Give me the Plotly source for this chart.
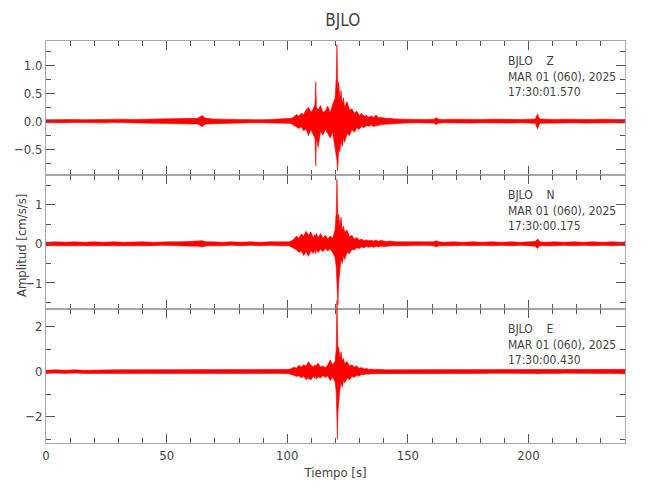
import plotly.graph_objects as go

# time grid (s) at which the envelope (max / min) of each trace was read
time = [0, 4, 8, 12, 16, 20, 24, 28, 32, 36,
        40, 44, 48, 52, 56, 60.8, 62.8, 63.8, 64.8, 65.8,
        66.8, 68.8, 72.8, 76.8, 80.8, 84.8, 88.8, 92.8, 96.8, 100.8,
        101.8, 102.8, 103.8, 104.8, 105.8, 106.8, 107.8, 108.8, 109.8, 110.8,
        111.5, 111.8, 112.1, 112.8, 113.8, 114.8, 115.8, 116.8, 117.8, 118.8,
        119.8, 120.3, 120.6, 120.8, 121.0, 121.3, 121.8, 122.3, 122.8, 123.3,
        123.8, 124.8, 125.8, 126.8, 127.8, 128.8, 129.8, 130.8, 131.8, 132.8,
        133.8, 134.8, 135.8, 136.8, 137.8, 138.8, 140.8, 142.8, 144.8, 148.8,
        152.8, 156.8, 160.8, 161.8, 162.8, 164.8, 168.8, 172.8, 176.8, 180.8,
        184.8, 188.8, 192.8, 196.8, 200.8, 202.8, 203.8, 204.3, 204.8, 206.8,
        210.8, 214.8, 218.8, 222.8, 226.8, 230.8, 234.8, 238.8, 240]

z_hi = [0.025, 0.03, 0.025, 0.03, 0.025, 0.03, 0.025, 0.03, 0.035, 0.03,
        0.035, 0.04, 0.035, 0.045, 0.045, 0.05, 0.05, 0.07, 0.1, 0.06,
        0.05, 0.04, 0.035, 0.03, 0.035, 0.03, 0.025, 0.03, 0.035, 0.04,
        0.05, 0.08, 0.12, 0.09, 0.14, 0.12, 0.2, 0.25, 0.16, 0.22,
        0.3, 0.7, 0.25, 0.2, 0.28, 0.16, 0.18, 0.27, 0.15, 0.3,
        0.4, 0.75, 1.37, 0.9, 0.55, 0.7, 0.4, 0.55, 0.3, 0.42,
        0.25, 0.35, 0.2, 0.22, 0.14, 0.18, 0.1, 0.14, 0.09, 0.1,
        0.07, 0.09, 0.07, 0.11, 0.06, 0.07, 0.05, 0.05, 0.04, 0.035,
        0.03, 0.03, 0.035, 0.06, 0.035, 0.03, 0.035, 0.03, 0.035, 0.03,
        0.035, 0.03, 0.035, 0.03, 0.035, 0.04, 0.13, 0.06, 0.04, 0.035,
        0.03, 0.035, 0.03, 0.035, 0.03, 0.035, 0.03, 0.035, 0.03]
z_lo = [-0.03, -0.025, -0.03, -0.025, -0.03, -0.025, -0.03, -0.025, -0.03, -0.035,
        -0.035, -0.04, -0.035, -0.045, -0.045, -0.05, -0.05, -0.07, -0.1, -0.06,
        -0.05, -0.04, -0.035, -0.03, -0.035, -0.03, -0.03, -0.025, -0.035, -0.04,
        -0.05, -0.08, -0.1, -0.13, -0.1, -0.17, -0.14, -0.26, -0.15, -0.25,
        -0.3, -0.8, -0.3, -0.47, -0.18, -0.25, -0.15, -0.22, -0.3, -0.2,
        -0.45, -0.6, -0.7, -0.89, -0.8, -0.5, -0.55, -0.35, -0.45, -0.3,
        -0.38, -0.22, -0.26, -0.15, -0.2, -0.12, -0.15, -0.09, -0.12, -0.08,
        -0.09, -0.07, -0.1, -0.08, -0.08, -0.06, -0.05, -0.045, -0.04, -0.035,
        -0.03, -0.03, -0.035, -0.06, -0.035, -0.03, -0.035, -0.03, -0.035, -0.03,
        -0.035, -0.03, -0.035, -0.03, -0.035, -0.04, -0.14, -0.07, -0.04, -0.035,
        -0.03, -0.035, -0.03, -0.035, -0.03, -0.035, -0.03, -0.035, -0.03]

n_hi = [0.04, 0.05, 0.04, 0.05, 0.04, 0.05, 0.04, 0.05, 0.04, 0.05,
        0.05, 0.04, 0.05, 0.05, 0.05, 0.06, 0.06, 0.07, 0.08, 0.06,
        0.05, 0.05, 0.04, 0.05, 0.04, 0.05, 0.04, 0.05, 0.05, 0.05,
        0.08, 0.12, 0.2, 0.14, 0.25, 0.2, 0.32, 0.22, 0.3, 0.15,
        0.24, 0.18, 0.27, 0.15, 0.26, 0.14, 0.22, 0.12, 0.2, 0.14,
        0.35, 0.8, 1.65, 1.1, 0.6, 0.75, 0.45, 0.68, 0.35, 0.45,
        0.3, 0.35, 0.18, 0.22, 0.12, 0.16, 0.1, 0.12, 0.08, 0.1,
        0.08, 0.09, 0.07, 0.1, 0.06, 0.09, 0.06, 0.07, 0.05, 0.05,
        0.05, 0.04, 0.05, 0.08, 0.05, 0.04, 0.05, 0.04, 0.05, 0.04,
        0.05, 0.04, 0.05, 0.04, 0.05, 0.06, 0.12, 0.07, 0.05, 0.04,
        0.05, 0.04, 0.05, 0.04, 0.05, 0.04, 0.05, 0.04, 0.05]
n_lo = [-0.05, -0.04, -0.05, -0.04, -0.05, -0.04, -0.05, -0.04, -0.05, -0.04,
        -0.05, -0.05, -0.04, -0.05, -0.05, -0.06, -0.06, -0.07, -0.08, -0.06,
        -0.05, -0.04, -0.05, -0.04, -0.05, -0.04, -0.05, -0.04, -0.05, -0.05,
        -0.08, -0.12, -0.15, -0.22, -0.18, -0.3, -0.2, -0.32, -0.18, -0.25,
        -0.16, -0.25, -0.15, -0.22, -0.14, -0.2, -0.12, -0.18, -0.14, -0.22,
        -0.35, -0.6, -0.9, -1.3, -1.57, -1.0, -0.68, -0.4, -0.5, -0.3,
        -0.4, -0.22, -0.25, -0.14, -0.16, -0.1, -0.12, -0.08, -0.1, -0.07,
        -0.09, -0.07, -0.09, -0.06, -0.08, -0.06, -0.07, -0.05, -0.05, -0.05,
        -0.05, -0.04, -0.05, -0.08, -0.05, -0.04, -0.05, -0.04, -0.05, -0.04,
        -0.05, -0.04, -0.05, -0.04, -0.05, -0.06, -0.12, -0.07, -0.05, -0.04,
        -0.05, -0.04, -0.05, -0.04, -0.05, -0.04, -0.05, -0.04, -0.05]

e_hi = [0.06, 0.08, 0.06, 0.08, 0.06, 0.08, 0.07, 0.08, 0.08, 0.09,
        0.08, 0.08, 0.09, 0.08, 0.09, 0.1, 0.09, 0.1, 0.1, 0.09,
        0.08, 0.09, 0.08, 0.07, 0.08, 0.07, 0.08, 0.07, 0.08, 0.1,
        0.14, 0.2, 0.15, 0.28, 0.2, 0.3, 0.25, 0.44, 0.28, 0.22,
        0.3, 0.2, 0.3, 0.37, 0.2, 0.25, 0.18, 0.3, 0.52, 0.3,
        0.45, 1.0, 3.17, 1.7, 0.9, 1.1, 0.6, 0.88, 0.45, 0.6,
        0.35, 0.45, 0.25, 0.3, 0.2, 0.25, 0.15, 0.18, 0.12, 0.14,
        0.1, 0.12, 0.09, 0.11, 0.09, 0.09, 0.08, 0.08, 0.08, 0.08,
        0.08, 0.07, 0.08, 0.08, 0.07, 0.08, 0.08, 0.07, 0.08, 0.08,
        0.07, 0.08, 0.08, 0.07, 0.08, 0.08, 0.1, 0.08, 0.08, 0.07,
        0.08, 0.07, 0.08, 0.08, 0.07, 0.08, 0.08, 0.09, 0.1]
e_lo = [-0.08, -0.06, -0.08, -0.06, -0.08, -0.07, -0.08, -0.08, -0.09, -0.08,
        -0.08, -0.09, -0.08, -0.09, -0.08, -0.1, -0.09, -0.1, -0.1, -0.09,
        -0.09, -0.08, -0.07, -0.08, -0.07, -0.08, -0.07, -0.08, -0.08, -0.1,
        -0.14, -0.16, -0.22, -0.18, -0.28, -0.2, -0.35, -0.3, -0.37, -0.2,
        -0.3, -0.2, -0.34, -0.22, -0.28, -0.18, -0.25, -0.2, -0.4, -0.25,
        -0.45, -0.9, -2.0, -3.0, -1.8, -1.25, -0.8, -0.5, -0.7, -0.4,
        -0.5, -0.3, -0.35, -0.22, -0.25, -0.16, -0.2, -0.12, -0.14, -0.1,
        -0.12, -0.09, -0.1, -0.09, -0.09, -0.08, -0.08, -0.08, -0.08, -0.08,
        -0.08, -0.07, -0.08, -0.08, -0.07, -0.08, -0.08, -0.07, -0.08, -0.08,
        -0.07, -0.08, -0.08, -0.07, -0.08, -0.08, -0.1, -0.08, -0.08, -0.07,
        -0.08, -0.07, -0.08, -0.08, -0.07, -0.08, -0.08, -0.09, -0.1]

station = "BJLO"
components = ["Z", "N", "E"]
start_times = ["17:30:01.570", "17:30:00.175", "17:30:00.430"]
date_label = "MAR 01 (060), 2025"
y_ranges = [[-0.964, 1.434], [-1.664, 1.756], [-3.17, 2.78]]
y_dticks = [0.5, 1, 2]
y_formats = [".1f", "d", "d"]
x_range = [0, 240]

FONT = "Liberation Sans Narrow, DejaVu Sans Condensed, sans-serif"
AXC = "#a8a8a8"
TXT = "#444444"
TICKC = "#555555"
RED = "#ff0000"

fig = go.Figure()

# panel domains: top (Z), middle (N), bottom (E)
doms = [[2 / 3, 1.0], [1 / 3, 2 / 3], [0.0, 1 / 3]]
ext = 0.035  # the E trace runs a little above its frame, as in the original

his = [z_hi, n_hi, e_hi]
los = [z_lo, n_lo, e_lo]
for k in range(3):
    xa = "x" if k == 0 else f"x{k + 1}"
    ya = "y" if k == 0 else f"y{k + 1}"
    # empty trace so that every framed subplot exists
    fig.add_trace(go.Scatter(x=[None], y=[None], xaxis=xa, yaxis=ya,
                             mode="lines", hoverinfo="skip", showlegend=False))
    if k == 2:
        ya = "y4"
    fig.add_trace(go.Scatter(
        x=time + time[::-1], y=his[k] + los[k][::-1], xaxis=xa, yaxis=ya,
        mode="lines", fill="toself", fillcolor=RED,
        line=dict(color=RED, width=0.6),
        hoverinfo="skip", showlegend=False))

common_x = dict(range=x_range, tick0=0, dtick=50, ticks="inside", ticklen=9,
                tickwidth=1, tickcolor=TICKC, automargin=False,
                minor=dict(dtick=10, ticks="inside", ticklen=5, tickcolor=TICKC),
                showline=True, linecolor=AXC, linewidth=1, mirror="ticks",
                showgrid=False, zeroline=False,
                tickfont=dict(family=FONT, size=13, color=TXT))

layout = {}
for k in range(3):
    xname = "xaxis" if k == 0 else f"xaxis{k + 1}"
    yname = "yaxis" if k == 0 else f"yaxis{k + 1}"
    xref = "x" if k == 0 else f"x{k + 1}"
    yref = "y" if k == 0 else f"y{k + 1}"
    xd = dict(common_x)
    xd["anchor"] = yref
    xd["showticklabels"] = (k == 2)
    if k == 2:
        xd["title"] = dict(text="Tiempo [s]", font=dict(family=FONT, size=13, color=TXT),
                           standoff=6)
    layout[xname] = xd
    yd = dict(range=y_ranges[k], domain=doms[k], anchor=xref, dtick=y_dticks[k], tick0=0,
              tickformat=y_formats[k], ticks="inside", ticklen=9, tickwidth=1,
              tickcolor=TICKC, automargin=False,
              minor=dict(dtick=y_dticks[k] / 2, ticks="inside", ticklen=5,
                         tickcolor=TICKC),
              showline=True, linecolor=AXC, linewidth=1, mirror="ticks",
              showgrid=False, zeroline=False,
              tickfont=dict(family=FONT, size=13, color=TXT))
    layout[yname] = yd

r3 = y_ranges[2]
span = r3[1] - r3[0]
layout["yaxis4"] = dict(range=[r3[0], r3[1] + span * ext / (1 / 3)],
                        domain=[0.0, 1 / 3 + ext], anchor="x3", visible=False,
                        showgrid=False, zeroline=False, automargin=False)

fig.update_layout(**layout)

nb = "\u00a0"
for k in range(3):
    fig.add_annotation(
        xref="paper", yref="paper", x=0.795, y=doms[k][1] - 0.028,
        xanchor="left", yanchor="top", align="left", showarrow=False,
        text=f"{station}{nb * 4}{components[k]}<br>{date_label}<br>{start_times[k]}",
        font=dict(family=FONT, size=12, color=TXT))

# shared y-axis title, centred on the middle panel
fig.add_annotation(
    xref="paper", yref="paper", x=-0.043, y=0.49, xanchor="center", yanchor="middle",
    textangle=-90, showarrow=False, text="Amplitud [cm/s/s]",
    font=dict(family=FONT, size=13, color=TXT))

fig.update_layout(
    width=650, height=500,
    margin=dict(l=38, r=33, t=33, b=65, autoexpand=False),
    paper_bgcolor="white", plot_bgcolor="rgba(0,0,0,0)",
    title=dict(text=station, x=0.515, xanchor="center", y=0.976, yanchor="middle",
               font=dict(family=FONT, size=17, color=TXT)),
    showlegend=False,
)

fig.write_html("out.html")
